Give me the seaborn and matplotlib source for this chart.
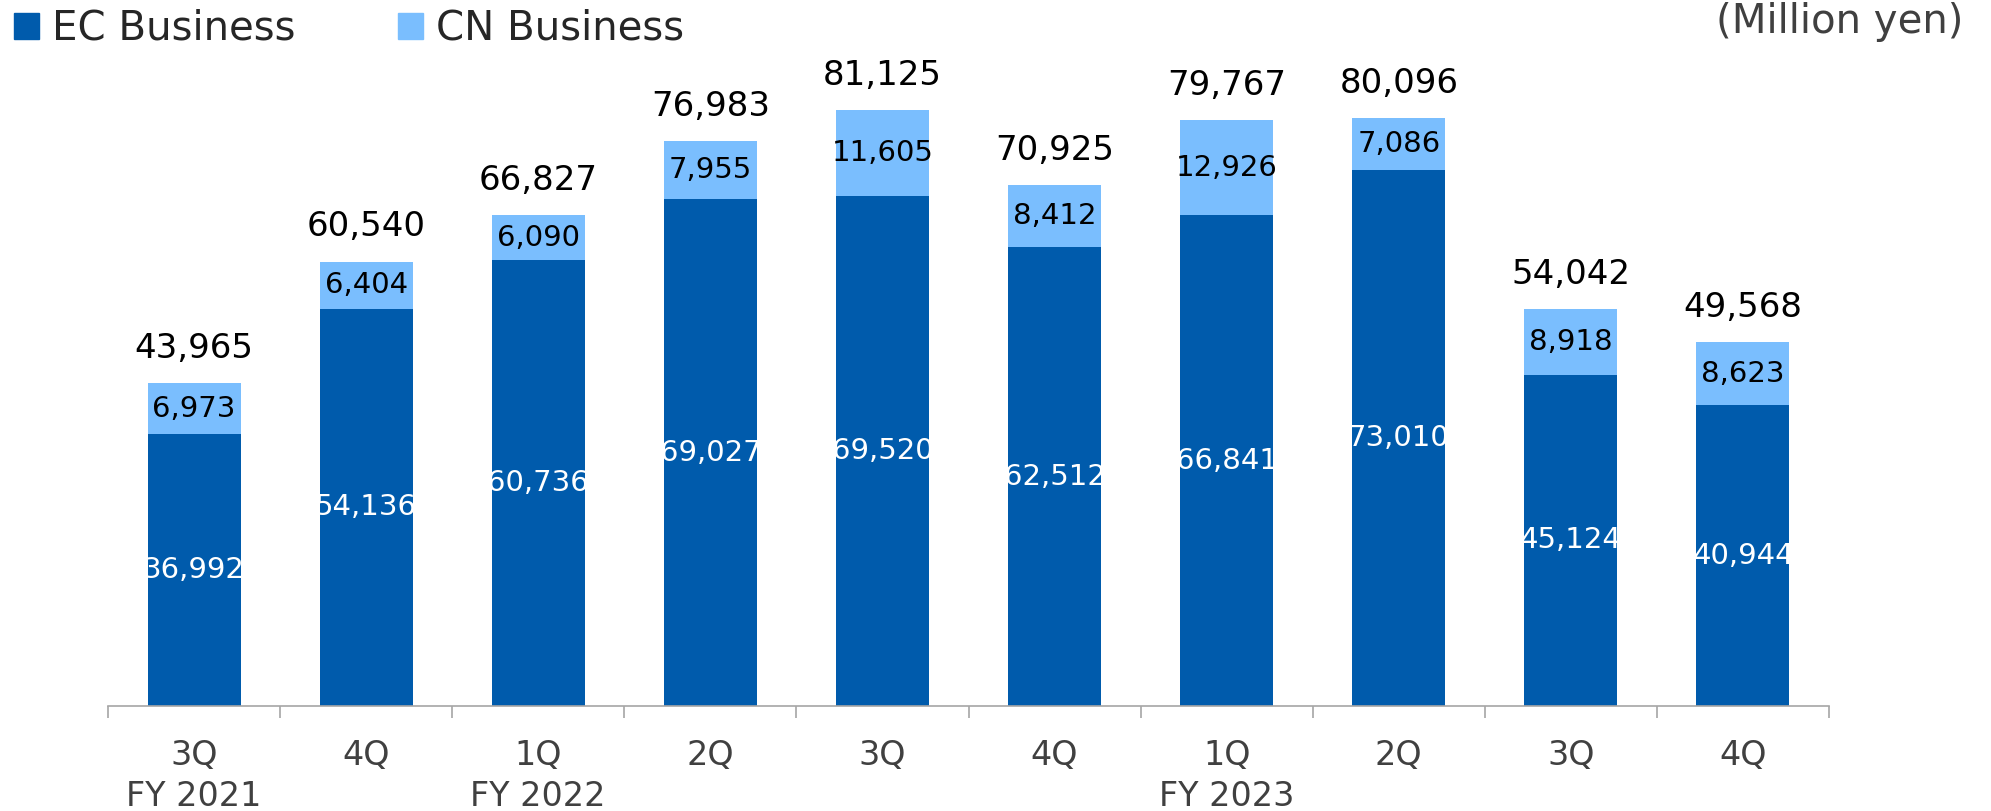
import pandas as pd
import matplotlib.pyplot as plt
import seaborn as sns
from matplotlib.patches import Patch

quarters = ['3Q', '4Q', '1Q', '2Q', '3Q', '4Q', '1Q', '2Q', '3Q', '4Q']
years = ['FY 2021', '', 'FY 2022', '', '', '', 'FY 2023', '', '', '']
ec = [36992, 54136, 60736, 69027, 69520, 62512, 66841, 73010, 45124, 40944]
cn = [6973, 6404, 6090, 7955, 11605, 8412, 12926, 7086, 8918, 8623]
totals = [43965, 60540, 66827, 76983, 81125, 70925, 79767, 80096, 54042, 49568]

EC_COLOR = '#005BAC'
CN_COLOR = '#7ABEFE'

df = pd.DataFrame({'period': [f'{i}_{q}' for i, q in enumerate(quarters)],
                   'ec': ec, 'cn': cn})
df['stack'] = df['ec'] + df['cn']

sns.set_style('white')
plt.rcParams['font.family'] = ['DejaVu Sans']

fig = plt.figure(figsize=(19.91, 8.11), dpi=100)
ax = fig.add_axes([108 / 1991, 105 / 811, 1721 / 1991, 686 / 811])

sns.barplot(data=df, x='period', y='stack', color=CN_COLOR, width=0.54,
            saturation=1, linewidth=0, ax=ax)
sns.barplot(data=df, x='period', y='ec', color=EC_COLOR, width=0.54,
            saturation=1, linewidth=0, ax=ax)

ax.set_xlim(-0.5, len(quarters) - 0.5)
ax.set_ylim(0, 93450)

# labels
for i in range(len(quarters)):
    ax.text(i, ec[i] / 2, f'{ec[i]:,}', ha='center', va='center',
            color='white', fontsize=21)
    ax.text(i, ec[i] + cn[i] / 2, f'{cn[i]:,}', ha='center', va='center',
            color='black', fontsize=21)
    ax.annotate(f'{totals[i]:,}', (i, ec[i] + cn[i]), xytext=(0, 25),
                textcoords='offset points', ha='center', va='center',
                color='black', fontsize=24.5)

ax.set_xticks(range(len(quarters)))
ax.set_xticklabels([f'{q}\n{y}' if y else q for q, y in zip(quarters, years)],
                   fontsize=24, color='#404040', linespacing=1.3)
ax.set_xticks([i - 0.5 for i in range(len(quarters) + 1)], minor=True)
ax.tick_params(axis='x', which='major', length=0, pad=24)
ax.tick_params(axis='x', which='minor', bottom=True, length=8.5, width=1.2,
               color='#A6A6A6', direction='out')
ax.set_yticks([])
ax.set_xlabel('')
ax.set_ylabel('')
sns.despine(ax=ax, left=True)
ax.spines['bottom'].set_color('#A6A6A6')
ax.spines['bottom'].set_linewidth(1.2)

handles = [Patch(color=EC_COLOR, label='EC Business'),
           Patch(color=CN_COLOR, label='CN Business')]
fig.legend(handles=handles, loc='center left',
           bbox_to_anchor=(14 / 1991, 1 - 29 / 811), ncol=2, frameon=False,
           fontsize=29, handlelength=0.62, handleheight=0.62,
           handletextpad=0.32, columnspacing=2.55, borderpad=0,
           borderaxespad=0)

fig.text(1963 / 1991, 1 - 22 / 811, '(Million yen)', ha='right', va='center',
         fontsize=29, color='#404040')

plt.savefig('out.png', dpi=100)
